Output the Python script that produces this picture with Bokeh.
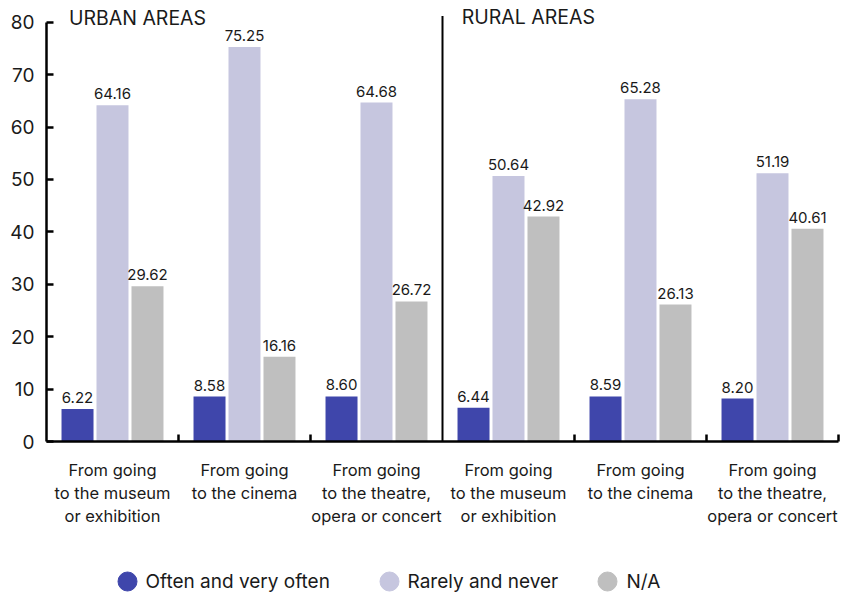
from bokeh.plotting import figure
from bokeh.models import ColumnDataSource, FixedTicker, Label, Range1d
from bokeh.layouts import column
from bokeh.embed import file_html
from bokeh.resources import INLINE
from bokeh.core.properties import value

# --- data -----------------------------------------------------------------
areas = ["URBAN AREAS", "RURAL AREAS"]
activities = [
    "From going\nto the museum\nor exhibition",
    "From going\nto the cinema",
    "From going\nto the theatre,\nopera or concert",
]
series = ["Often and very often", "Rarely and never", "N/A"]

urban_often = [6.22, 8.58, 8.60]
urban_rarely = [64.16, 75.25, 64.68]
urban_na = [29.62, 16.16, 26.72]

rural_often = [6.44, 8.59, 8.20]
rural_rarely = [50.64, 65.28, 51.19]
rural_na = [42.92, 26.13, 40.61]

y_ticks = [0, 10, 20, 30, 40, 50, 60, 70, 80]

colors = ["#3f46ab", "#c6c6df", "#bfbfbf"]
FONT = "Inter"
INK = "#1a1a1a"

# --- layout helpers -------------------------------------------------------
n_act = len(activities)
n_groups = n_act * len(areas)
bar_w = 0.2424
offsets = [-0.265, 0.0, 0.265]

values_by_series = [
    urban_often + rural_often,
    urban_rarely + rural_rarely,
    urban_na + rural_na,
]

FRAME_L, FRAME_W = 46, 792

p = figure(
    frame_width=FRAME_W, frame_height=435,
    x_range=Range1d(0, n_groups), y_range=Range1d(0, 83),
    output_backend="svg", toolbar_location=None,
    min_border_left=FRAME_L, min_border_right=3, min_border_top=6, min_border_bottom=120,
)
p.outline_line_color = None
p.xgrid.visible = False
p.ygrid.visible = False
p.background_fill_color = "white"
p.border_fill_color = "white"

for k, vals in enumerate(values_by_series):
    xs = [g + 0.5 + offsets[k] for g in range(n_groups)]
    src = ColumnDataSource(dict(
        x=xs, top=vals, label=["%.2f" % v for v in vals],
    ))
    p.vbar(x="x", top="top", bottom=0, width=bar_w, source=src,
           fill_color=colors[k], line_color=None)
    p.text(x="x", y="top", text="label", source=src,
           text_align="center", text_baseline="bottom", y_offset=-6,
           text_font=value(FONT), text_font_size="15px", text_color=INK)

# divider between urban and rural panels
p.segment(x0=[n_act], y0=[0], x1=[n_act], y1=[81.2],
          line_color="black", line_width=2)

# panel titles
p.add_layout(Label(x=0.17, y=80.8, text=areas[0], text_baseline="middle",
                   text_font=FONT, text_font_size="19.5px", text_color=INK))
p.add_layout(Label(x=n_act + 0.145, y=81.0, text=areas[1], text_baseline="middle",
                   text_font=FONT, text_font_size="19.5px", text_color=INK))

# y axis
ya = p.yaxis[0]
ya.ticker = FixedTicker(ticks=y_ticks)
ya.bounds = (0, 80)
ya.axis_line_width = 2.5
ya.axis_line_color = "black"
ya.major_tick_in = 7
ya.major_tick_out = 0
ya.major_tick_line_width = 2.5
ya.major_tick_line_color = "black"
ya.minor_tick_line_color = None
ya.major_label_standoff = 12
ya.major_label_text_font = FONT
ya.major_label_text_font_size = "19px"
ya.major_label_text_color = INK

# x axis: labels at group centres, separator ticks at group borders
centers = [g + 0.5 for g in range(n_groups)]
borders = [g for g in range(1, n_groups + 1) if g != n_act]
xa = p.xaxis[0]
xa.ticker = FixedTicker(ticks=centers, minor_ticks=borders)
xa.major_label_overrides = {c: activities[i % n_act] for i, c in enumerate(centers)}
xa.axis_line_width = 2.5
xa.axis_line_color = "black"
xa.major_tick_in = 0
xa.major_tick_out = 0
xa.minor_tick_in = 7
xa.minor_tick_out = 0
xa.minor_tick_line_width = 2.5
xa.minor_tick_line_color = "black"
xa.major_label_standoff = 18
xa.major_label_text_font = FONT
xa.major_label_text_font_size = "16.5px"
xa.major_label_text_color = INK
xa.major_label_text_line_height = 1.15

# legend strip; its frame is aligned with the chart frame above, so the
# x range is expressed in page pixels
LH = 33
lg = figure(width=841, height=LH,
            x_range=Range1d(FRAME_L, FRAME_L + FRAME_W), y_range=Range1d(0, LH),
            output_backend="svg", toolbar_location=None,
            x_axis_location=None, y_axis_location=None,
            min_border=0, min_border_left=0, min_border_right=0,
            min_border_top=0, min_border_bottom=0)
lg.grid.visible = False
lg.outline_line_color = None
leg_src = ColumnDataSource(dict(
    mx=[127, 389, 607], tx=[145, 407, 626], y=[13, 13, 13],
    name=series, color=colors,
))
lg.scatter(x="mx", y="y", size=19, color="color", source=leg_src)
lg.text(x="tx", y="y", text="name", source=leg_src, text_baseline="middle",
        text_font=value(FONT), text_font_size="19px", text_color=INK)

layout = column(p, lg, spacing=0)
open("out.html", "w").write(file_html(layout, INLINE))
